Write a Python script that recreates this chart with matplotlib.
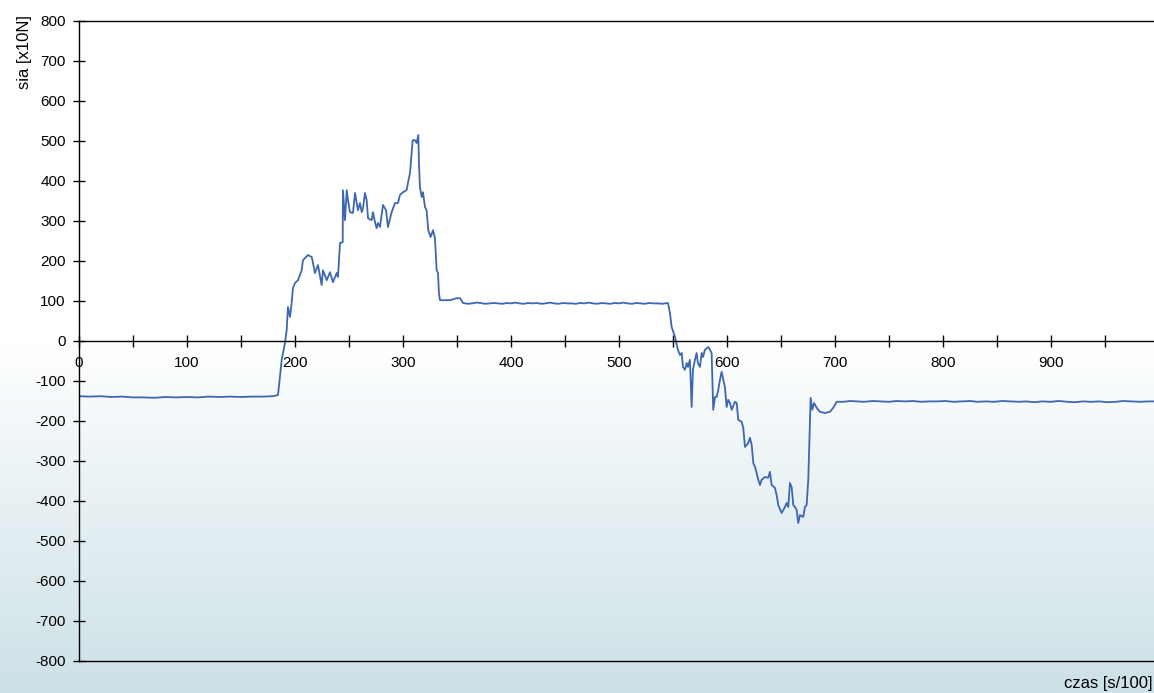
import numpy as np
import matplotlib
matplotlib.use("Agg")
import matplotlib.pyplot as plt
from matplotlib.ticker import MultipleLocator

plt.rcParams["font.family"] = ["Liberation Sans", "DejaVu Sans"]
plt.rcParams["axes.unicode_minus"] = False

# czas [s/100] and sila [x10N]
t_start = [0, 10, 20, 30, 40, 50, 60, 70, 80, 90, 100, 110, 120, 130, 140, 150, 160, 170, 180, 184.3]
f_start = [-138, -139, -138, -140, -139, -141, -141, -142, -140, -141, -140, -141, -139, -140, -139, -140, -139, -139, -138, -135]

t_push = [187.7, 190.7, 192.3, 193.5, 195.4, 196.9, 198.1, 200, 202.8, 206.2, 207.4, 212, 215.5,
          216.7, 218.5, 221.3, 224.7, 225.9, 229.4, 232.4, 235.2, 238.6, 239.8, 241.7, 244.2,
          244.4, 246.3, 247.9, 249.1, 250.9, 253.7, 255.6, 258.3, 260.2, 261.8, 263, 264.8,
          266.4, 267.6, 271, 272.2, 274.1, 275.6, 276.9, 278.7, 281.5, 284.3, 286.1, 289.5,
          292.6, 295.4, 297.2, 300, 303.4, 304.6, 306.5, 308, 309, 311.1, 312.7, 314.2, 314.8,
          315.7, 317.3, 318.5, 320.4, 321.9, 323.4, 325.6, 327.8, 329.6, 331.2, 332.4, 333.3,
          334.3, 337, 343.5, 349.7, 352.8]
f_push = [-47, -5, 27, 85, 60, 95, 132, 145, 152, 177, 202, 215, 210,
          195, 170, 190, 140, 177, 152, 172, 147, 170, 160, 245, 247,
          377, 302, 377, 352, 322, 320, 370, 327, 345, 322, 332, 370,
          352, 307, 302, 322, 297, 282, 295, 285, 340, 327, 285, 322,
          345, 345, 365, 372, 377, 395, 420, 470, 502, 502, 495, 515, 445,
          385, 360, 372, 335, 327, 277, 260, 277, 257, 177, 170, 120,
          102, 102, 102, 107, 107]

t_hold = [355.6, 360, 364, 368, 372, 376, 380, 384, 388, 392, 396, 400, 404, 408, 412, 416,
          420, 424, 428, 432, 436, 440, 444, 448, 452, 456, 460, 464, 468, 472, 476, 480,
          484, 488, 492, 496, 500, 504, 508, 512, 516, 520, 524, 528, 532, 536, 540, 545.4]
f_hold = [95, 93, 94, 96, 95, 93, 94, 95, 94, 93, 95, 94, 96, 94, 93, 95,
          94, 95, 93, 94, 96, 94, 93, 95, 94, 94, 93, 95, 94, 96, 94, 93,
          95, 94, 93, 95, 94, 96, 94, 93, 95, 94, 93, 95, 94, 94, 93, 95]

t_pull = [547.2, 548.8, 551.9, 554.6, 556.5, 558.1, 559.3, 561.1, 562.7, 563.9, 565.7, 567.3,
          568.5, 570.4, 571.9, 573.1, 575, 576.6, 577.8, 579.6, 582.7, 584.3, 585.8, 587.3,
          588.9, 590.5, 592, 593.5, 595.1, 596.6, 598.1, 599.7, 601.2, 602.8, 604.4, 607.4,
          609, 610.5, 613.6, 615.1, 616.7, 619.7, 621.3, 622.9, 624.4, 626, 627.5, 629, 630.6,
          632.1, 635.2, 638.2, 639.8, 641.4, 644.4, 646, 647.5, 650.6, 653.7, 655.3, 656.8,
          658.3, 659.9, 661.4, 663, 664.5, 666, 667.6, 670.6, 672.2, 673.8, 675.3, 676.2,
          676.9, 677.5, 679, 680.6, 683.1, 686.1, 690.7, 695.4, 698.4, 701.6]
f_pull = [70, 35, 10, -22, -35, -30, -65, -72, -55, -65, -47, -165,
          -72, -47, -30, -55, -65, -30, -40, -22, -15, -22, -30, -172,
          -140, -140, -122, -97, -77, -97, -115, -165, -147, -155, -172, -152,
          -155, -197, -202, -217, -265, -255, -242, -260, -305, -315, -330, -347, -360,
          -347, -340, -342, -327, -360, -367, -385, -410, -430, -415, -405, -415,
          -355, -365, -410, -415, -422, -455, -435, -440, -415, -410, -347, -265,
          -197, -142, -172, -155, -167, -177, -180, -177, -167, -152]

t_end = [707.7, 714, 720, 727, 735, 742, 750, 757, 765, 772, 780, 787, 795, 802, 810, 817,
         825, 832, 840, 847, 855, 862, 870, 877, 885, 892, 900, 907, 915, 922, 930, 937,
         945, 952, 960, 967, 975, 982, 990, 1001]
f_end = [-152, -150, -151, -152, -150, -151, -152, -150, -151, -150, -152, -151, -151, -150,
         -152, -151, -150, -152, -151, -152, -150, -151, -152, -151, -153, -151, -152, -150,
         -152, -153, -151, -152, -151, -153, -152, -150, -151, -152, -151, -151]

t = np.array(t_start + t_push + t_hold + t_pull + t_end)
f = np.array(f_start + f_push + f_hold + f_pull + f_end)

W, H = 1154, 693
fig = plt.figure(figsize=(W / 100, H / 100), dpi=100)

# background: white above the zero line, light blue gradient below
bg = fig.add_axes([0, 0, 1, 1], zorder=-5)
bg.set_axis_off()
ys = np.linspace(0, 1, H)
top = np.array([1.0, 1.0, 1.0])
bottom = np.array([0.80, 0.88, 0.905])
split = 342 / H
frac = np.clip((ys - split) / (1 - split), 0, 1)
cols = top[None, :] * (1 - frac[:, None]) + bottom[None, :] * frac[:, None]
img = np.repeat(cols[:, None, :], 4, axis=1)
bg.imshow(img, aspect="auto", extent=[0, 1, 1, 0])
bg.set_xlim(0, 1)
bg.set_ylim(1, 0)

x0 = 79 / W
ax = fig.add_axes([x0, 32 / H, (1160 - 79) / W, 640 / H])
ax.patch.set_alpha(0)
ax.plot(t, f, color="#3d67b1", lw=1.3)

ax.set_xlim(0, 1001)
ax.set_ylim(-800, 800)
ax.spines["bottom"].set_position(("data", 0))
ax.spines["right"].set_visible(False)
for s in ["left", "top", "bottom"]:
    ax.spines[s].set_linewidth(1.0)
ax.axhline(-800, color="black", lw=1.0, clip_on=False)

ax.set_xticks(np.arange(0, 901, 100))
ax.xaxis.set_minor_locator(MultipleLocator(50))
ax.set_yticks(np.arange(-800, 801, 100))
ax.tick_params(axis="both", which="both", direction="inout", length=9, width=1,
               labelsize=11, colors="black")
ax.tick_params(axis="x", pad=6)
ax.tick_params(axis="y", pad=5)

fig.text(0.021, 0.978, "sia [x10N]", rotation=90, va="top", ha="center", fontsize=12)
fig.text(0.999, 0.003, "czas [s/100]", ha="right", va="bottom", fontsize=12)

fig.savefig("out.png", dpi=100)
